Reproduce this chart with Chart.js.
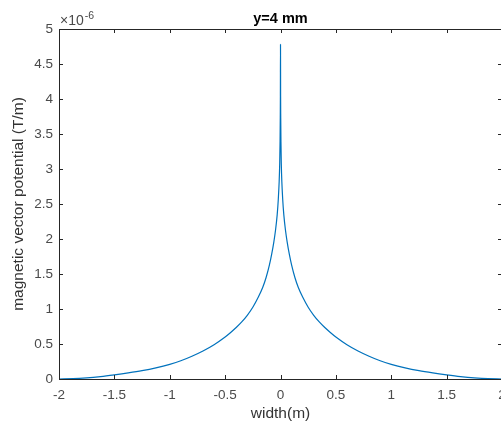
<!DOCTYPE html>
<html>
<head>
<meta charset="utf-8">
<script src="https://cdn.jsdelivr.net/npm/chart.js@4/dist/chart.umd.min.js"></script>
<style>
  html, body { margin: 0; padding: 0; background: #fff; overflow: hidden; }
  #wrap { width: 501px; height: 423px; overflow: hidden; }
</style>
</head>
<body>
<div id="wrap"><canvas id="potChart" width="502" height="423"></canvas></div>
<script>
// values (potential in units of 1e-6 T/m)
var widthM = [-2, -1.875, -1.75, -1.625, -1.5, -1.375, -1.25, -1.125, -1, -0.9, -0.8, -0.7, -0.6, -0.5, -0.45, -0.4, -0.35, -0.3, -0.25, -0.2, -0.16, -0.13, -0.1, -0.08, -0.06, -0.045, -0.03, -0.02, -0.012, -0.007, -0.004, -0.002, -0.001,
              0,
              0.001, 0.002, 0.004, 0.007, 0.012, 0.02, 0.03, 0.045, 0.06, 0.08, 0.1, 0.13, 0.16, 0.2, 0.25, 0.3, 0.35, 0.4, 0.45, 0.5, 0.6, 0.7, 0.8, 0.9, 1, 1.125, 1.25, 1.375, 1.5, 1.625, 1.75, 1.875, 2];
var potential = [0, 0.004, 0.016, 0.035, 0.06, 0.088, 0.12, 0.16, 0.21, 0.26, 0.325, 0.4, 0.49, 0.6, 0.665, 0.735, 0.815, 0.91, 1.025, 1.17, 1.31, 1.45, 1.63, 1.78, 1.96, 2.125, 2.345, 2.565, 2.82, 3.09, 3.39, 3.74, 4.04,
                 4.78,
                 4.04, 3.74, 3.39, 3.09, 2.82, 2.565, 2.345, 2.125, 1.96, 1.78, 1.63, 1.45, 1.31, 1.17, 1.025, 0.91, 0.815, 0.735, 0.665, 0.6, 0.49, 0.4, 0.325, 0.26, 0.21, 0.16, 0.12, 0.088, 0.06, 0.035, 0.016, 0.004, 0];
var xTicks = [-2, -1.5, -1, -0.5, 0, 0.5, 1, 1.5, 2];
var yTicks = [0, 0.5, 1, 1.5, 2, 2.5, 3, 3.5, 4, 4.5, 5];
var titleText = 'y=4 mm';
var xLabel = 'width(m)';
var yLabel = 'magnetic vector potential (T/m)';

var FONT = "'Liberation Sans', Arial, Helvetica, sans-serif";

/**
 * Box, inward ticks, title and exponent, like a matlab axes
 */
var matlabAxes = {
    id: 'matlabAxes',
    afterDraw: function(chart) {
        var ctx = chart.ctx;
        var a = chart.chartArea;
        var xs = chart.scales.x, ys = chart.scales.y;
        var i, p;
        ctx.save();
        ctx.strokeStyle = '#262626';
        ctx.lineWidth = 1;
        ctx.strokeRect(a.left + 0.5, a.top + 0.5, a.right - a.left - 1, a.bottom - a.top);
        ctx.beginPath();
        for (i = 0; i < xTicks.length; i++) {
            p = Math.round(xs.getPixelForValue(xTicks[i])) + 0.5;
            ctx.moveTo(p, a.bottom); ctx.lineTo(p, a.bottom - 4);
            ctx.moveTo(p, a.top); ctx.lineTo(p, a.top + 4);
        }
        for (i = 0; i < yTicks.length; i++) {
            p = Math.round(ys.getPixelForValue(yTicks[i])) + 0.5;
            ctx.moveTo(a.left, p); ctx.lineTo(a.left + 4, p);
            ctx.moveTo(a.right, p); ctx.lineTo(a.right - 4, p);
        }
        ctx.stroke();

        // title centred over the axes
        ctx.fillStyle = '#000';
        ctx.font = 'bold 14.5px ' + FONT;
        ctx.textAlign = 'center';
        ctx.textBaseline = 'alphabetic';
        ctx.fillText(titleText, (a.left + a.right) / 2, a.top - 6);

        // exponent
        ctx.fillStyle = '#4a4a4a';
        ctx.textAlign = 'left';
        ctx.font = '14px ' + FONT;
        ctx.fillText('\u00d710', a.left + 1, a.top - 4);
        var w = ctx.measureText('\u00d710').width;
        ctx.font = '10.5px ' + FONT;
        ctx.fillText('-6', a.left + 1 + w + 1, a.top - 10);
        ctx.restore();
    }
};

function buildPoints() {
    var pts = [];
    for (var i = 0; i < widthM.length; i++) {
        pts.push({x: widthM[i], y: potential[i]});
    }
    return pts;
}

var ctx = document.getElementById('potChart').getContext('2d');
var potChart = new Chart(ctx, {
    type: 'line',
    data: {
        datasets: [{
            data: buildPoints(),
            borderColor: '#0072BD',
            borderWidth: 1.2,
            borderJoinStyle: 'round',
            pointRadius: 0,
            cubicInterpolationMode: 'monotone',
            fill: false
        }]
    },
    options: {
        responsive: false,
        animation: false,
        layout: { padding: { top: 29, right: 0, bottom: 0, left: 0 } },
        plugins: { legend: { display: false }, tooltip: { enabled: false }, title: { display: false } },
        scales: {
            x: {
                type: 'linear',
                min: -2, max: 2,
                afterBuildTicks: function(scale) {
                    scale.ticks = xTicks.map(function(v) { return {value: v}; });
                },
                afterFit: function(scale) {
                    scale.height = 44;
                    scale.paddingLeft = 0;
                    scale.paddingRight = 0;
                },
                grid: { display: false, drawTicks: false },
                border: { display: false },
                ticks: {
                    padding: 8,
                    color: '#4a4a4a',
                    font: { family: FONT, size: 13.5 },
                    maxRotation: 0,
                    autoSkip: false,
                    callback: function(v) { return String(v); }
                },
                title: {
                    display: true,
                    text: xLabel,
                    color: '#333',
                    font: { family: FONT, size: 15.5 },
                    padding: { top: 0, bottom: 0 }
                }
            },
            y: {
                type: 'linear',
                min: 0, max: 5,
                afterBuildTicks: function(scale) {
                    scale.ticks = yTicks.map(function(v) { return {value: v}; });
                },
                afterFit: function(scale) {
                    scale.width = 59;
                    scale.paddingTop = 0;
                    scale.paddingBottom = 0;
                },
                grid: { display: false, drawTicks: false },
                border: { display: false },
                ticks: {
                    padding: 6,
                    color: '#4a4a4a',
                    font: { family: FONT, size: 13.5 },
                    autoSkip: false,
                    callback: function(v) { return String(v); }
                },
                title: {
                    display: true,
                    text: yLabel,
                    color: '#333',
                    font: { family: FONT, size: 15.5 },
                    padding: { top: 9, bottom: 0 }
                }
            }
        }
    },
    plugins: [matlabAxes]
});
</script>
</body>
</html>
